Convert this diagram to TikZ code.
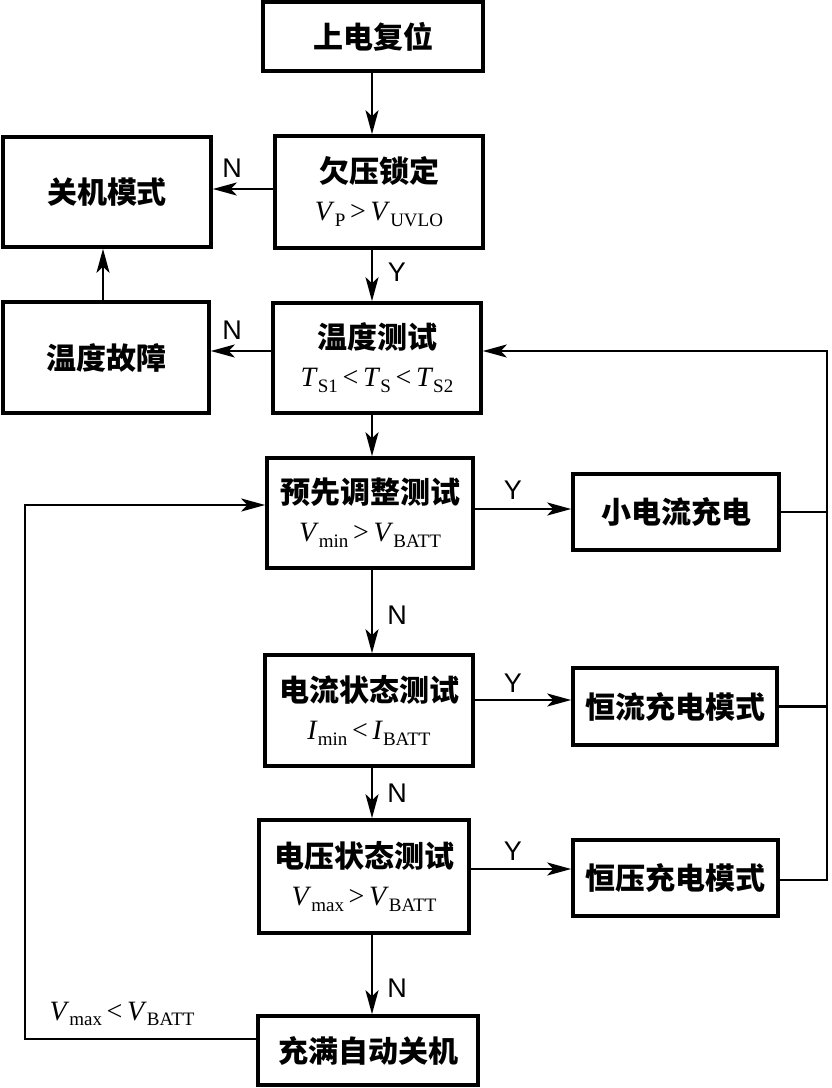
\documentclass[tikz,border=0pt]{standalone}
\usepackage{fontspec}
\setmainfont{Liberation Serif}
\newfontfamily\cjk{Noto Sans CJK SC}
\newfontfamily\lsans{Liberation Sans}
\usetikzlibrary{arrows.meta}
\newcommand\qq[2]{\textit{#1}\raisebox{-0.45ex}{\fontsize{19}{19}\selectfont #2}}
\newcommand\fm[1]{\\[0pt]{\normalfont\fontsize{28}{30}\selectfont #1}}
\tikzset{
  box/.style={draw, line width=3.6pt, inner sep=0pt, align=center,
    font=\cjk\bfseries\fontsize{30}{38}\selectfont},
  arr/.style={line width=2.6pt, -{Stealth[length=24pt,width=13pt,inset=6pt]}},
  ln/.style={line width=2.6pt},
  yn/.style={font=\lsans\fontsize{27}{27}\selectfont},
}
\begin{document}
\begin{tikzpicture}[x=1pt,y=-1pt]
\useasboundingbox (0,0) rectangle (831,1088);
% boxes
\node[box, minimum width=220pt, minimum height=69pt] (pwr) at (373,36.5) {上电复位};
\node[box, minimum width=208pt, minimum height=112pt] (uvlo) at (379,192) {欠压锁定\fm{\qq{V}{P}\,>\,\qq{V}{UVLO}}};
\node[box, minimum width=208pt, minimum height=110pt] (off) at (107,192) {关机模式};
\node[box, minimum width=206pt, minimum height=111pt] (tfault) at (106,357.5) {温度故障};
\node[box, minimum width=208pt, minimum height=110pt] (ttest) at (377,358) {温度测试\fm{\qq{T}{S1}\,<\,\qq{T}{S}\,<\,\qq{T}{S2}}};
\node[box, minimum width=206pt, minimum height=110pt] (pre) at (370,513) {预先调整测试\fm{\qq{V}{min}\,>\,\qq{V}{BATT}}};
\node[box, minimum width=206pt, minimum height=76pt] (small) at (676,512) {小电流充电};
\node[box, minimum width=208pt, minimum height=111pt] (itest) at (369,710.5) {电流状态测试\fm{\qq{I}{min}\,<\,\qq{I}{BATT}}};
\node[box, minimum width=204pt, minimum height=77pt] (cc) at (675,706.5) {恒流充电模式};
\node[box, minimum width=210pt, minimum height=113pt] (vtest) at (364,876.5) {电压状态测试\fm{\qq{V}{max}\,>\,\qq{V}{BATT}}};
\node[box, minimum width=205pt, minimum height=76pt] (cv) at (675.5,878) {恒压充电模式};
\node[box, minimum width=220pt, minimum height=69pt] (full) at (368,1050.5) {充满自动关机};
% helper coordinates
\coordinate (ax) at (372,0);
\coordinate (h1) at (0,189);
\coordinate (h2) at (0,351);
\coordinate (h3) at (0,509);
\coordinate (h4) at (0,700);
\coordinate (h5) at (0,869);
\coordinate (R) at (827,351);
\coordinate (LB) at (25,1039);
\coordinate (LT) at (25,505);
% main column
\draw[arr] (pwr.south -| ax) -- (uvlo.north -| ax);
\draw[arr] (uvlo.south -| ax) -- (ttest.north -| ax);
\draw[arr] (ttest.south -| ax) -- (pre.north -| ax);
\draw[arr] (pre.south -| ax) -- (itest.north -| ax);
\draw[arr] (itest.south -| ax) -- (vtest.north -| ax);
\draw[arr] (vtest.south -| ax) -- (full.north -| ax);
% left branches
\draw[arr] (uvlo.west |- h1) -- (off.east |- h1);
\draw[arr] (ttest.west |- h2) -- (tfault.east |- h2);
\draw[arr] (tfault.north -| 103,0) -- (off.south -| 103,0);
% right branches
\draw[arr] (pre.east |- h3) -- (small.west |- h3);
\draw[arr] (itest.east |- h4) -- (cc.west |- h4);
\draw[arr] (vtest.east |- h5) -- (cv.west |- h5);
% feedback right
\draw[ln] (small.east) -- (small.east -| R);
\draw[ln] (cc.east) -- (cc.east -| R);
\draw[arr] (cv.east |- 0,880) -| (R) -- (ttest.east |- R);
% feedback left
\draw[arr] (full.west |- LB) -- (LB) -- (LT) -- (pre.west |- LT);
% labels
\node[yn] at (232,168) {N};
\node[yn] at (232,330) {N};
\node[yn] at (397,272) {Y};
\node[yn] at (513,490) {Y};
\node[yn] at (397,615) {N};
\node[yn] at (513,683) {Y};
\node[yn] at (397,793) {N};
\node[yn] at (513,851) {Y};
\node[yn] at (397,988) {N};
\node[font=\normalfont\fontsize{28}{30}\selectfont] at (122,1014) {\qq{V}{max}\,<\,\qq{V}{BATT}};
\end{tikzpicture}
\end{document}
